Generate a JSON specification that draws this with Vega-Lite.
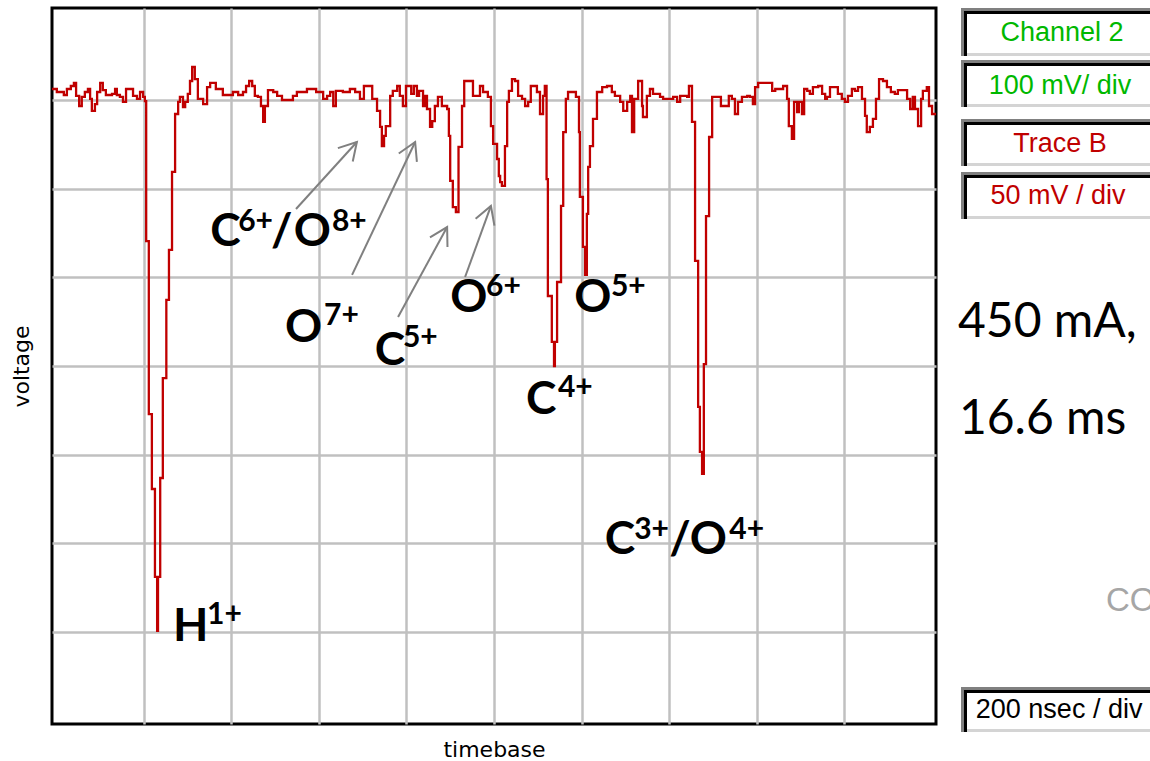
{
  "$schema": "https://vega.github.io/schema/vega-lite/v6.json",
  "usermeta": {"embedOptions": {"actions": false}},
  "background": "#ffffff",
  "padding": {"left": 8, "top": 6, "right": 0, "bottom": 0},
  "bounds": "flush",
  "spacing": 25,
  "datasets": {
    "trace": [
      {"t":-9,"v":156.3},{"t":2,"v":154.6},{"t":18,"v":152.9},{"t":25,"v":156.3},{"t":34,"v":158.0},{"t":41,"v":159.7},{"t":46,"v":152.4},{"t":53,"v":146.7},{"t":59,"v":151.8},{"t":66,"v":154.6},{"t":73,"v":156.3},{"t":78,"v":150.7},{"t":82,"v":143.9},{"t":89,"v":147.8},{"t":94,"v":154.6},{"t":101,"v":159.7},{"t":107,"v":155.7},{"t":114,"v":152.9},{"t":128,"v":153.5},{"t":135,"v":156.3},{"t":139,"v":152.9},{"t":146,"v":151.8},{"t":153,"v":149.0},{"t":160,"v":156.3},{"t":176,"v":152.4},{"t":185,"v":150.7},{"t":192,"v":154.6},{"t":199,"v":151.8},{"t":203,"v":149.5},
      {"t":206,"v":70.5},{"t":212,"v":-27.1},{"t":219,"v":-69.4},{"t":226,"v":-119.0},{"t":231,"v":-149.5},{"t":233,"v":-119.0},{"t":238,"v":-63.2},{"t":244,"v":-6.8},{"t":252,"v":37.3},{"t":258,"v":65.5},{"t":265,"v":109.5},{"t":272,"v":142.2},{"t":279,"v":149.0},
      {"t":283,"v":151.8},{"t":290,"v":146.1},{"t":295,"v":149.0},{"t":301,"v":153.5},{"t":306,"v":160.8},{"t":311,"v":168.7},{"t":317,"v":161.9},{"t":324,"v":150.7},{"t":336,"v":147.8},{"t":345,"v":157.4},{"t":352,"v":159.7},{"t":365,"v":156.3},{"t":381,"v":152.9},{"t":404,"v":154.6},{"t":416,"v":152.9},{"t":427,"v":154.6},{"t":434,"v":158.0},{"t":441,"v":160.8},{"t":448,"v":158.0},{"t":454,"v":152.4},{"t":461,"v":151.8},{"t":468,"v":146.7},{"t":473,"v":137.7},{"t":477,"v":146.7},{"t":484,"v":155.7},{"t":496,"v":154.6},{"t":505,"v":152.4},{"t":516,"v":150.1},{"t":541,"v":152.4},{"t":550,"v":154.6},{"t":573,"v":156.3},{"t":594,"v":154.6},{"t":610,"v":150.7},{"t":619,"v":152.4},{"t":626,"v":154.6},{"t":633,"v":146.7},{"t":639,"v":155.2},{"t":655,"v":154.6},{"t":671,"v":156.3},{"t":683,"v":154.6},{"t":694,"v":150.7},{"t":703,"v":158.0},{"t":722,"v":150.7},{"t":733,"v":143.9},{"t":740,"v":134.9},{"t":744,"v":124.1},{"t":749,"v":129.8},{"t":753,"v":135.4},{"t":763,"v":152.4},{"t":769,"v":155.2},{"t":779,"v":158.0},{"t":785,"v":152.4},{"t":792,"v":146.7},{"t":799,"v":158.0},{"t":811,"v":153.5},{"t":817,"v":158.0},{"t":824,"v":152.4},{"t":829,"v":155.2},{"t":838,"v":146.7},{"t":843,"v":152.4},{"t":847,"v":145.0},{"t":854,"v":134.9},{"t":859,"v":138.2},{"t":865,"v":146.7},{"t":872,"v":151.8},{"t":881,"v":146.7},{"t":893,"v":145.0},{"t":897,"v":129.8},{"t":900,"v":104.4},{"t":906,"v":89.7},{"t":913,"v":86.9},{"t":919,"v":123.6},{"t":927,"v":146.7},{"t":932,"v":160.8},{"t":952,"v":152.4},{"t":968,"v":158.0},{"t":975,"v":154.6},{"t":986,"v":151.8},{"t":993,"v":135.4},{"t":998,"v":125.3},{"t":1007,"v":116.8},{"t":1011,"v":107.2},{"t":1014,"v":103.8},{"t":1018,"v":101.6},{"t":1025,"v":124.1},{"t":1030,"v":149.0},{"t":1034,"v":155.2},{"t":1041,"v":161.9},{"t":1048,"v":160.8},{"t":1055,"v":152.4},{"t":1064,"v":150.7},{"t":1071,"v":146.7},{"t":1078,"v":149.0},{"t":1084,"v":158.0},{"t":1098,"v":154.6},{"t":1105,"v":142.2},{"t":1112,"v":152.4},{"t":1116,"v":158.0},
      {"t":1120,"v":105.5},{"t":1123,"v":39.5},{"t":1132,"v":13.6},{"t":1137,"v":0},{"t":1139,"v":13.6},{"t":1144,"v":47.4},{"t":1153,"v":90.3},{"t":1158,"v":132.0},{"t":1164,"v":150.7},{"t":1169,"v":154.6},{"t":1187,"v":151.8},{"t":1194,"v":132.0},{"t":1196,"v":95.4},{"t":1203,"v":67.2},{"t":1208,"v":51.4},{"t":1212,"v":85.8},{"t":1215,"v":112.3},{"t":1219,"v":124.1},{"t":1226,"v":139.4},{"t":1235,"v":154.6},{"t":1247,"v":157.4},{"t":1258,"v":158.0},{"t":1269,"v":154.6},{"t":1276,"v":152.4},{"t":1288,"v":149.0},{"t":1295,"v":143.9},{"t":1304,"v":149.0},{"t":1311,"v":152.4},{"t":1315,"v":132.0},{"t":1320,"v":150.7},{"t":1329,"v":160.8},{"t":1338,"v":146.7},{"t":1340,"v":140.5},{"t":1349,"v":152.4},{"t":1356,"v":156.3},{"t":1363,"v":153.5},{"t":1379,"v":151.8},{"t":1386,"v":150.7},{"t":1409,"v":151.8},{"t":1418,"v":149.0},{"t":1425,"v":152.4},{"t":1441,"v":151.8},{"t":1445,"v":158.0},{"t":1452,"v":137.7},
      {"t":1459,"v":59.3},{"t":1466,"v":-23.1},{"t":1470,"v":-48.5},{"t":1475,"v":-60.9},{"t":1479,"v":1.1},{"t":1484,"v":84.6},{"t":1491,"v":129.2},{"t":1498,"v":151.8},{"t":1518,"v":146.7},{"t":1536,"v":152.4},{"t":1543,"v":150.7},{"t":1550,"v":142.2},{"t":1557,"v":149.0},{"t":1566,"v":151.8},{"t":1578,"v":152.4},{"t":1584,"v":151.8},{"t":1591,"v":147.8},{"t":1596,"v":157.4},{"t":1603,"v":159.7},{"t":1635,"v":155.2},{"t":1642,"v":156.3},{"t":1660,"v":158.0},{"t":1669,"v":150.7},{"t":1673,"v":135.4},{"t":1680,"v":128.1},{"t":1685,"v":149.0},{"t":1692,"v":143.3},{"t":1696,"v":149.0},{"t":1703,"v":142.2},{"t":1708,"v":156.3},{"t":1715,"v":155.2},{"t":1721,"v":153.5},{"t":1728,"v":157.4},{"t":1740,"v":158.0},{"t":1749,"v":153.5},{"t":1756,"v":150.7},{"t":1760,"v":151.8},{"t":1767,"v":157.4},{"t":1785,"v":153.5},{"t":1794,"v":150.7},{"t":1801,"v":149.0},{"t":1808,"v":152.4},{"t":1817,"v":156.3},{"t":1824,"v":155.2},{"t":1831,"v":157.4},{"t":1840,"v":150.7},{"t":1847,"v":141.1},{"t":1851,"v":132.0},{"t":1858,"v":134.9},{"t":1865,"v":139.4},{"t":1872,"v":150.7},{"t":1879,"v":161.9},{"t":1888,"v":160.8},{"t":1897,"v":157.4},{"t":1906,"v":154.6},{"t":1915,"v":153.5},{"t":1922,"v":155.7},{"t":1943,"v":150.7},{"t":1950,"v":145.0},{"t":1956,"v":151.8},{"t":1961,"v":145.0},{"t":1968,"v":135.4},{"t":1975,"v":150.7},{"t":1979,"v":155.2},{"t":1988,"v":157.4},{"t":1993,"v":146.7},{"t":2000,"v":142.2},{"t":2009,"v":142.2}
    ],
    "labelBase": [
      {"s":"H","t":267,"v":-155.1},
      {"s":"C","t":352,"v":67.7},
      {"s":"/","t":491,"v":67.7},
      {"s":"O","t":543,"v":67.7},
      {"s":"O","t":523,"v":13.6},
      {"s":"C","t":728,"v":0.6},
      {"s":"O","t":900,"v":30.5},
      {"s":"O","t":1183,"v":30.5},
      {"s":"C","t":1073,"v":-27.1},
      {"s":"C","t":1253,"v":-106.1},
      {"s":"/","t":1400,"v":-106.1},
      {"s":"O","t":1447,"v":-106.1}
    ],
    "labelSup": [
      {"s":"1+","t":345,"v":-145.5},
      {"s":"6+","t":416,"v":76.2},
      {"s":"8+","t":630,"v":76.2},
      {"s":"7+","t":612,"v":23.1},
      {"s":"5+","t":792,"v":10.7},
      {"s":"6+","t":982,"v":39.5},
      {"s":"5+","t":1267,"v":39.5},
      {"s":"4+","t":1146,"v":-17.5},
      {"s":"3+","t":1320,"v":-97.6},
      {"s":"4+","t":1537,"v":-97.6}
    ],
    "arrows": [
      {"id":1,"t":687,"v":126.4,"t2":548,"v2":88.6},
      {"id":2,"t":820,"v":126.4,"t2":676,"v2":51.4},
      {"id":3,"t":893,"v":78.4,"t2":781,"v2":27.7},
      {"id":4,"t":993,"v":90.3,"t2":934,"v2":50.2}
    ],
    "boxes": [
      {"label":"Channel 2","grp":"channel","y1":0,"y2":0.066,"xc":0.534,"yb":0.0454},
      {"label":"100 mV/ div","grp":"channel","y1":0.0715,"y2":0.1362,"xc":0.524,"yb":0.1183},
      {"label":"Trace B","grp":"trace","y1":0.1527,"y2":0.2173,"xc":0.524,"yb":0.1981},
      {"label":"50 mV / div","grp":"trace","y1":0.2256,"y2":0.2902,"xc":0.513,"yb":0.2696},
      {"label":"200 nsec / div","grp":"time","y1":0.934,"y2":0.9959,"xc":0.519,"yb":0.9766}
    ],
    "notes": [
      {"s":"450 mA,","xn":-0.016,"yn":0.4525},
      {"s":"16.6 ms","xn":-0.011,"yn":0.586}
    ],
    "faded": [
      {"s":"CO","xn":0.767,"yn":0.8294}
    ]
  },
  "hconcat": [
    {
      "width": 884,
      "height": 716,
      "view": {"stroke": "#000000", "strokeWidth": 3},
      "encoding": {
        "x": {"field": "t", "type": "quantitative",
              "scale": {"domain": [-9, 2009], "nice": false, "zero": false},
              "axis": {"values": [200,400,600,800,1000,1200,1400,1600,1800], "grid": true, "gridColor": "#c0c0c0", "gridWidth": 2.5, "gridOpacity": 1,
                       "labels": false, "ticks": false, "domain": false,
                       "title": "timebase", "titleFont": "DejaVu Sans", "titleFontSize": 22, "titleFontWeight": "normal", "titleColor": "#000000", "titlePadding": 15}},
        "y": {"field": "v", "type": "quantitative",
              "scale": {"domain": [-202, 202], "nice": false, "zero": false},
              "axis": {"values": [-150,-100,-50,0,50,100,150], "grid": true, "gridColor": "#c0c0c0", "gridWidth": 2.5, "gridOpacity": 1,
                       "labels": false, "ticks": false, "domain": false,
                       "title": "voltage", "titleFont": "DejaVu Sans", "titleFontSize": 22, "titleFontWeight": "normal", "titleColor": "#000000", "titlePadding": 19}}
      },
      "layer": [
        {"data": {"name": "trace"},
         "mark": {"type": "line", "interpolate": "step-after", "color": "#c00000", "strokeWidth": 2.3}},
        {"data": {"name": "arrows"},
         "mark": {"type": "rule", "color": "#808080", "strokeWidth": 2},
         "encoding": {"x2": {"field": "t2"}, "y2": {"field": "v2"}}},
        {"data": {"name": "arrows"}, "transform": [{"filter": "datum.id === 1"}],
         "mark": {"type": "point", "shape": "M-0.5,0.866L0,0L0.5,0.866", "size": 1600, "angle": 42, "filled": false, "color": "#808080", "stroke": "#808080", "strokeWidth": 2, "opacity": 1}},
        {"data": {"name": "arrows"}, "transform": [{"filter": "datum.id === 2"}],
         "mark": {"type": "point", "shape": "M-0.5,0.866L0,0L0.5,0.866", "size": 1600, "angle": 25, "filled": false, "color": "#808080", "stroke": "#808080", "strokeWidth": 2, "opacity": 1}},
        {"data": {"name": "arrows"}, "transform": [{"filter": "datum.id === 3"}],
         "mark": {"type": "point", "shape": "M-0.5,0.866L0,0L0.5,0.866", "size": 1600, "angle": 29, "filled": false, "color": "#808080", "stroke": "#808080", "strokeWidth": 2, "opacity": 1}},
        {"data": {"name": "arrows"}, "transform": [{"filter": "datum.id === 4"}],
         "mark": {"type": "point", "shape": "M-0.5,0.866L0,0L0.5,0.866", "size": 1600, "angle": 20, "filled": false, "color": "#808080", "stroke": "#808080", "strokeWidth": 2, "opacity": 1}},
        {"data": {"name": "labelBase"},
         "mark": {"type": "text", "font": "Lato", "fontWeight": "bold", "fontSize": 46, "align": "left", "baseline": "alphabetic", "color": "#000000"},
         "encoding": {"text": {"field": "s"}}},
        {"data": {"name": "labelSup"},
         "mark": {"type": "text", "font": "Lato", "fontWeight": "bold", "fontSize": 30, "align": "left", "baseline": "alphabetic", "color": "#000000"},
         "encoding": {"text": {"field": "s"}}}
      ]
    },
    {
      "width": 189,
      "height": 727,
      "view": {"stroke": null},
      "layer": [
        {"data": {"name": "boxes"},
         "mark": {"type": "rect", "color": "#808080"},
         "encoding": {
           "x": {"datum": 0, "type": "quantitative", "scale": {"domain": [0, 1], "nice": false, "zero": false}, "axis": null},
           "x2": {"datum": 1},
           "y": {"field": "y1", "type": "quantitative", "scale": {"domain": [0, 1], "reverse": true, "nice": false, "zero": false}, "axis": null},
           "y2": {"field": "y2"}}},
        {"data": {"name": "boxes"},
         "mark": {"type": "rect", "color": "#000000", "xOffset": 3, "yOffset": 3},
         "encoding": {
           "x": {"datum": 0, "type": "quantitative", "scale": {"domain": [0, 1], "nice": false, "zero": false}, "axis": null},
           "x2": {"datum": 1},
           "y": {"field": "y1", "type": "quantitative", "scale": {"domain": [0, 1], "reverse": true, "nice": false, "zero": false}, "axis": null},
           "y2": {"field": "y2"}}},
        {"data": {"name": "boxes"},
         "mark": {"type": "rect", "color": "#d4d4d4", "xOffset": 6, "yOffset": 6},
         "encoding": {
           "x": {"datum": 0, "type": "quantitative", "scale": {"domain": [0, 1], "nice": false, "zero": false}, "axis": null},
           "x2": {"datum": 1},
           "y": {"field": "y1", "type": "quantitative", "scale": {"domain": [0, 1], "reverse": true, "nice": false, "zero": false}, "axis": null},
           "y2": {"field": "y2"}}},
        {"data": {"name": "boxes"},
         "mark": {"type": "rect", "color": "#ffffff", "xOffset": 6, "yOffset": 6, "y2Offset": -3},
         "encoding": {
           "x": {"datum": 0, "type": "quantitative", "scale": {"domain": [0, 1], "nice": false, "zero": false}, "axis": null},
           "x2": {"datum": 1},
           "y": {"field": "y1", "type": "quantitative", "scale": {"domain": [0, 1], "reverse": true, "nice": false, "zero": false}, "axis": null},
           "y2": {"field": "y2"}}},
        {"data": {"name": "boxes"},
         "mark": {"type": "text", "font": "Liberation Sans", "fontSize": 27, "align": "center", "baseline": "alphabetic", "clip": true},
         "encoding": {
           "x": {"field": "xc", "type": "quantitative", "scale": {"domain": [0, 1], "nice": false, "zero": false}, "axis": null},
           "y": {"field": "yb", "type": "quantitative", "scale": {"domain": [0, 1], "reverse": true, "nice": false, "zero": false}, "axis": null},
           "text": {"field": "label"},
           "color": {"field": "grp", "type": "nominal", "scale": {"domain": ["channel", "trace", "time"], "range": ["#00b800", "#c00000", "#000000"]}, "legend": null}}},
        {"data": {"name": "notes"},
         "mark": {"type": "text", "font": "Lato", "fontSize": 48, "align": "left", "baseline": "alphabetic", "color": "#000000"},
         "encoding": {
           "x": {"field": "xn", "type": "quantitative", "scale": {"domain": [0, 1], "nice": false, "zero": false}, "axis": null},
           "y": {"field": "yn", "type": "quantitative", "scale": {"domain": [0, 1], "reverse": true, "nice": false, "zero": false}, "axis": null},
           "text": {"field": "s"}}},
        {"data": {"name": "faded"},
         "mark": {"type": "text", "font": "Liberation Sans", "fontSize": 33, "align": "left", "baseline": "alphabetic", "color": "#a6a6a6", "clip": true},
         "encoding": {
           "x": {"field": "xn", "type": "quantitative", "scale": {"domain": [0, 1], "nice": false, "zero": false}, "axis": null},
           "y": {"field": "yn", "type": "quantitative", "scale": {"domain": [0, 1], "reverse": true, "nice": false, "zero": false}, "axis": null},
           "text": {"field": "s"}}}
      ]
    }
  ]
}
